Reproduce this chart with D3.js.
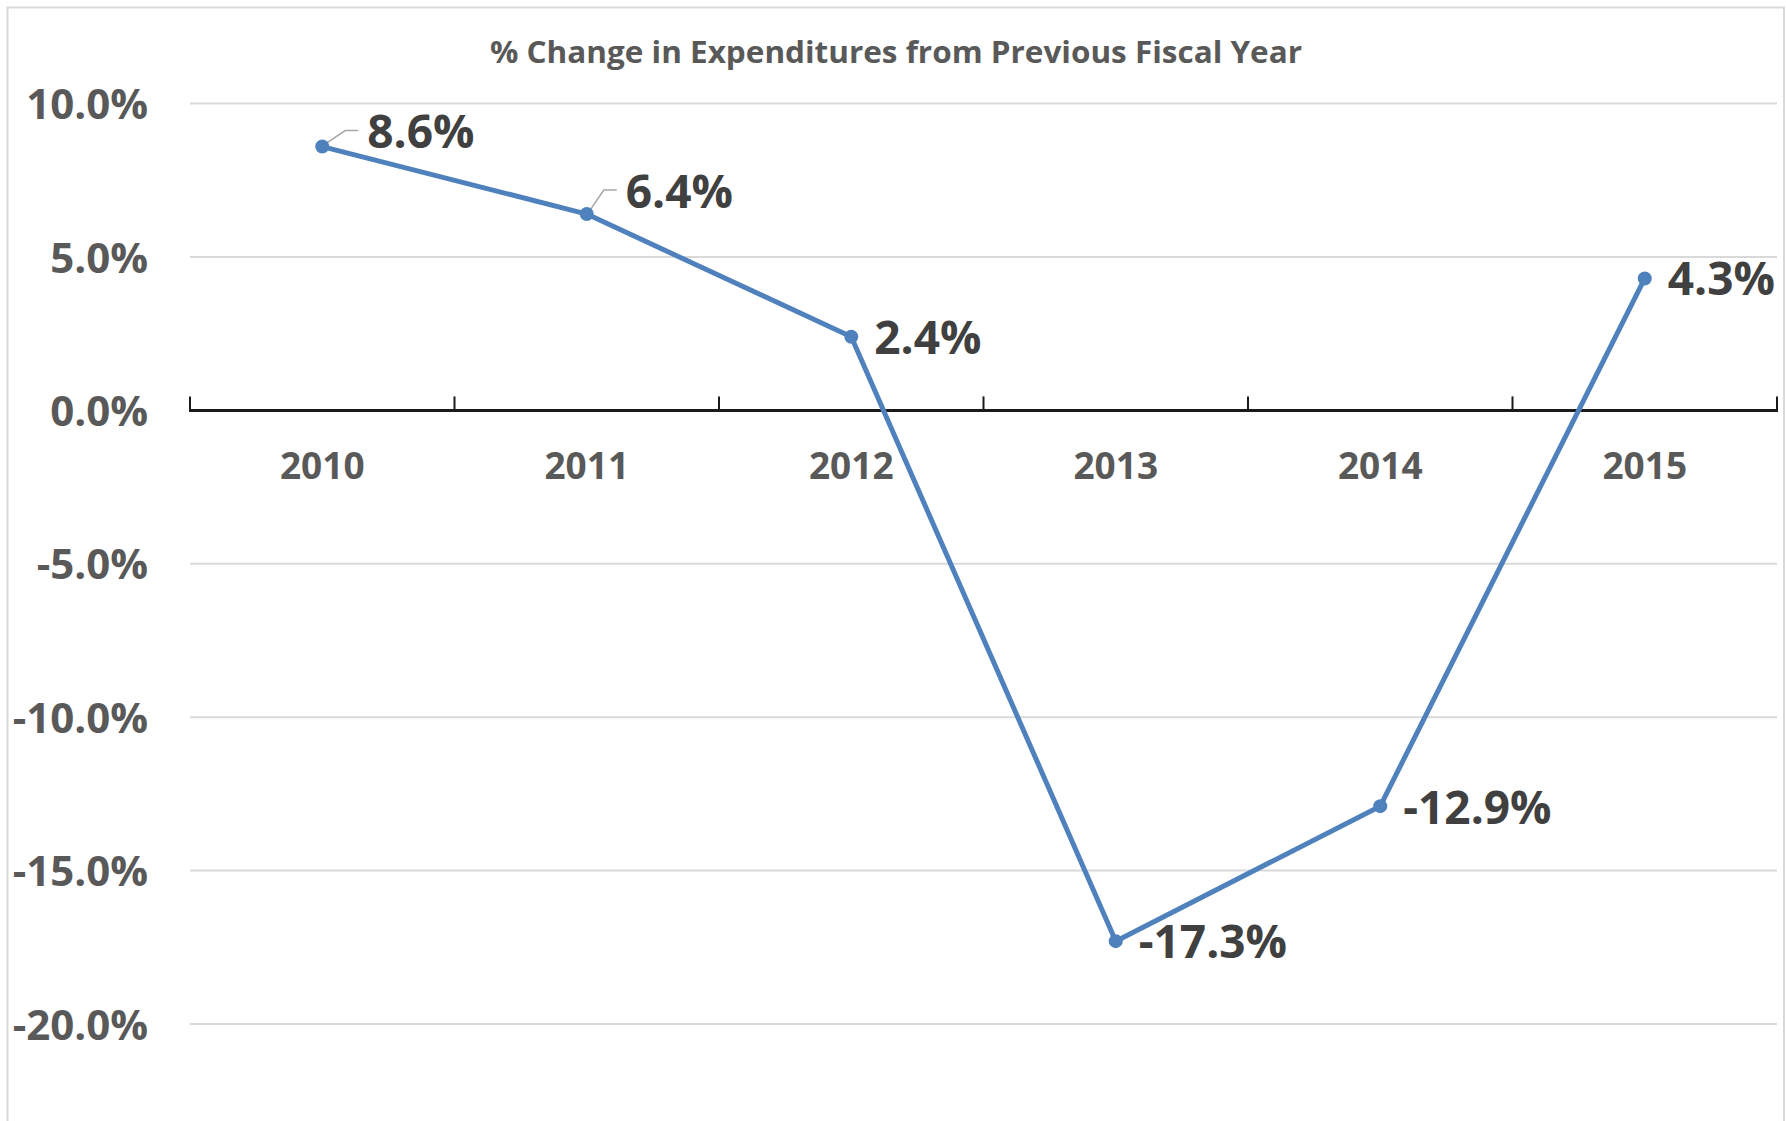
<!DOCTYPE html>
<html>
<head>
<meta charset="utf-8">
<script src="https://cdn.jsdelivr.net/npm/d3@7"></script>
<style>
  html, body { margin: 0; padding: 0; background: #fff; }
  svg { display: block; }
  text { font-family: "Open Sans", "Noto Sans", sans-serif; }
</style>
</head>
<body>
<svg id="chart" width="1786" height="1121"></svg>
<script>
// ---- data ----
const title = "% Change in Expenditures from Previous Fiscal Year";
const years = ["2010", "2011", "2012", "2013", "2014", "2015"];
const pctChange = [8.6, 6.4, 2.4, -17.3, -12.9, 4.3];
const yTicks = [10, 5, 0, -5, -10, -15, -20];

// ---- layout ----
const W = 1786, H = 1121;
const plot = { left: 190, right: 1777, top: 103.6, bottom: 1024 };

const svg = d3.select("#chart");
const pct = d3.formatLocale({ decimal: ".", thousands: ",", grouping: [3], currency: ["", ""], minus: "-" }).format(".1f");

// chart border
svg.append("rect")
  .attr("x", 7.5).attr("y", 7.5)
  .attr("width", 1784 - 7.5).attr("height", H + 20)
  .attr("fill", "#fff").attr("stroke", "#d9d9d9").attr("stroke-width", 2);

const x = d3.scaleBand().domain(years).range([plot.left, plot.right]).padding(0);
const y = d3.scaleLinear().domain([-20, 10]).range([plot.bottom, plot.top]);

// gridlines
svg.append("g").selectAll("line")
  .data(yTicks.filter(d => d !== 0))
  .join("line")
  .attr("x1", plot.left).attr("x2", plot.right)
  .attr("y1", d => y(d)).attr("y2", d => y(d))
  .attr("stroke", "#d9d9d9").attr("stroke-width", 2);

// y axis labels
const yAxis = d3.axisLeft(y).tickValues(yTicks).tickSize(0).tickPadding(0)
  .tickFormat(d => pct(d) + "%");
const gy = svg.append("g").attr("transform", `translate(${148},0)`).call(yAxis);
gy.select(".domain").remove();
gy.selectAll("text")
  .attr("fill", "#595959")
  .attr("font-size", 42)
  .attr("font-weight", 700)
  .attr("dy", "0.36em")
  .attr("text-anchor", "end")
  .attr("x", 0);

// x axis at zero
const zeroY = y(0);
const boundaries = years.map(d => x(d)).concat([plot.right]);
const gx = svg.append("g");
gx.append("line")
  .attr("x1", plot.left - 1).attr("x2", plot.right + 1)
  .attr("y1", zeroY).attr("y2", zeroY)
  .attr("stroke", "#1a1a1a").attr("stroke-width", 3);
gx.selectAll("line.tick")
  .data(boundaries)
  .join("line").attr("class", "tick")
  .attr("x1", d => d).attr("x2", d => d)
  .attr("y1", zeroY).attr("y2", zeroY - 14)
  .attr("stroke", "#1a1a1a").attr("stroke-width", 2);
gx.selectAll("text")
  .data(years)
  .join("text")
  .attr("x", d => x(d) + x.bandwidth() / 2)
  .attr("y", 479)
  .attr("text-anchor", "middle")
  .attr("fill", "#595959")
  .attr("font-size", 37)
  .attr("font-weight", 700)
  .text(d => d);

// title
svg.append("text")
  .attr("x", 896).attr("y", 63)
  .attr("text-anchor", "middle")
  .attr("fill", "#595959")
  .attr("font-size", 30)
  .attr("font-weight", 700)
  .attr("textLength", 812)
  .attr("lengthAdjust", "spacingAndGlyphs")
  .text(title);

// line
const pts = years.map((d, i) => ({ year: d, v: pctChange[i] }));
const cx = d => x(d.year) + x.bandwidth() / 2;
const line = d3.line().x(cx).y(d => y(d.v));
svg.append("path")
  .datum(pts)
  .attr("d", line)
  .attr("fill", "none")
  .attr("stroke", "#4f81bd")
  .attr("stroke-width", 5)
  .attr("stroke-linejoin", "round");

// label placement (offsets from marker: dx to label start, dy to label centre)
const labelPlacement = {
  "2010": { dx: 45, dy: -15, leader: true },
  "2011": { dx: 39, dy: -23, leader: true },
  "2012": { dx: 23, dy: 1 },
  "2013": { dx: 23, dy: 0 },
  "2014": { dx: 23, dy: 1 },
  "2015": { dx: 23, dy: 0 }
};

// leader lines
svg.append("g").selectAll("polyline")
  .data(pts.filter(d => labelPlacement[d.year].leader))
  .join("polyline")
  .attr("points", d => {
    const p = labelPlacement[d.year];
    const px = cx(d), py = y(d.v);
    const ly = py + p.dy - 1;
    return [[px + 2, py - 2], [px + p.dx - 22, ly], [px + p.dx - 9, ly]].map(q => q.join(",")).join(" ");
  })
  .attr("fill", "none")
  .attr("stroke", "#a6a6a6")
  .attr("stroke-width", 1.5);

// markers
svg.append("g").selectAll("circle")
  .data(pts)
  .join("circle")
  .attr("cx", cx).attr("cy", d => y(d.v))
  .attr("r", 7)
  .attr("fill", "#4f81bd");

// data labels
svg.append("g").selectAll("text")
  .data(pts)
  .join("text")
  .attr("x", d => cx(d) + labelPlacement[d.year].dx)
  .attr("y", d => y(d.v) + labelPlacement[d.year].dy)
  .attr("dy", "0.36em")
  .attr("fill", "#404040")
  .attr("font-size", 46)
  .attr("font-weight", 700)
  .text(d => pct(d.v) + "%");
</script>
</body>
</html>
